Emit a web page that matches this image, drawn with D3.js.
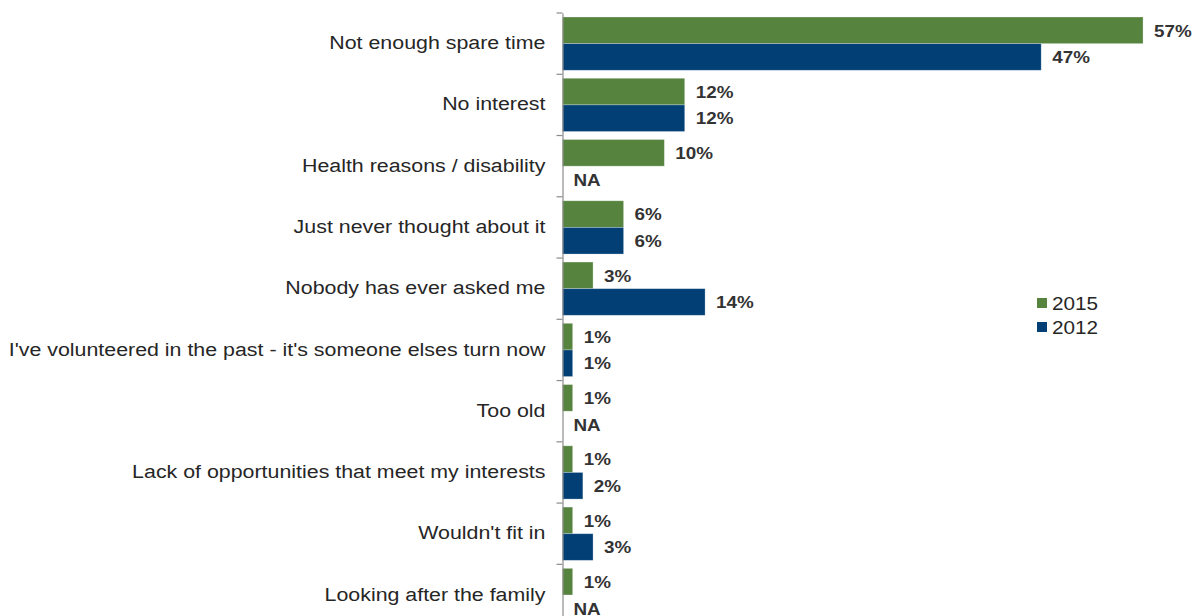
<!DOCTYPE html>
<html>
<head>
<meta charset="utf-8">
<script src="https://cdn.jsdelivr.net/npm/d3@7"></script>
<style>
  html, body { margin: 0; padding: 0; background: #fff; }
  svg { display: block; }
  text { font-family: "Liberation Sans", Arial, sans-serif; }
</style>
</head>
<body>
<svg id="chart" width="1195" height="616"></svg>
<script>
// Reasons for not volunteering, share of respondents (%)
const categories = [
  "Not enough spare time",
  "No interest",
  "Health reasons / disability",
  "Just never thought about it",
  "Nobody has ever asked me",
  "I've volunteered in the past - it's someone elses turn now",
  "Too old",
  "Lack of opportunities that meet my interests",
  "Wouldn't fit in",
  "Looking after the family"
];
const seriesNames = ["2015", "2012"];
// null = not asked that year (shown as NA)
const values2015 = [57, 12, 10, 6, 3, 1, 1, 1, 1, 1];
const values2012 = [47, 12, null, 6, 14, 1, null, 2, 3, null];
const seriesColors = ["#56843f", "#013f75"];

const svg = d3.select("#chart");
const axisX = 562.5;
const plotTop = 13, plotBottom = 625.6;
const stretch = 1.09;      // slightly wide type for values and legend
const labelStretch = 1.125; // category labels

const x = d3.scaleLinear().domain([0, 60]).range([axisX, axisX + 60 * 10.185]);
const y = d3.scaleBand().domain(categories).range([plotTop, plotBottom]).padding(0);
const ySub = d3.scaleBand().domain(seriesNames).range([4, y.step() - 4]).padding(0);

const rows = categories.map((c, i) => ({
  cat: c,
  vals: [
    { s: seriesNames[0], v: values2015[i] },
    { s: seriesNames[1], v: values2012[i] }
  ]
}));

const g = svg.append("g");

// Bars and value labels
const groups = g.selectAll("g.row").data(rows).join("g")
  .attr("class", "row")
  .attr("transform", d => `translate(0,${y(d.cat)})`);

groups.selectAll("rect").data(d => d.vals.filter(e => e.v !== null)).join("rect")
  .attr("x", x(0))
  .attr("y", e => ySub(e.s))
  .attr("width", e => x(e.v) - x(0))
  .attr("height", ySub.bandwidth())
  .attr("fill", e => seriesColors[seriesNames.indexOf(e.s)])
  .attr("stroke", "rgba(255,255,255,0.35)")
  .attr("stroke-width", 0.8);

groups.selectAll("text.val").data(d => d.vals).join("text")
  .attr("class", "val")
  .attr("transform", e => `translate(${(e.v === null ? x(0) : x(e.v)) + 11},${ySub(e.s) + ySub.bandwidth() / 2}) scale(${stretch},1)`)
  .attr("dy", "0.36em")
  .attr("font-size", 17.3)
  .attr("font-weight", "bold")
  .attr("fill", "#333")
  .text(e => e.v === null ? "NA" : e.v + "%");

// Category axis
const yAxis = d3.axisLeft(y).tickSize(0).tickPadding(17);
const axG = svg.append("g")
  .attr("transform", `translate(${axisX},0)`)
  .call(yAxis);
axG.select(".domain").attr("stroke", "#8c8c8c").attr("stroke-width", 1.2);
axG.selectAll(".tick text")
  .attr("x", 0)
  .attr("transform", `translate(-17,-0.5) scale(${labelStretch},1)`)
  .attr("font-size", 19)
  .attr("fill", "#262626")
  .attr("font-family", "'Liberation Sans', Arial, sans-serif");

// Boundary tick marks between categories
const boundaries = categories.map(c => y(c)).concat([plotBottom]);
svg.append("g").selectAll("line").data(boundaries).join("line")
  .attr("x1", axisX - 6).attr("x2", axisX)
  .attr("y1", d => d).attr("y2", d => d)
  .attr("stroke", "#8c8c8c").attr("stroke-width", 1.2);

// Legend
const legend = svg.append("g").attr("transform", "translate(1037,298)");
const li = legend.selectAll("g").data(seriesNames).join("g")
  .attr("transform", (d, i) => `translate(0,${i * 24})`);
li.append("rect").attr("width", 10).attr("height", 10).attr("y", 0)
  .attr("fill", (d, i) => seriesColors[i]);
li.append("text")
  .attr("transform", `translate(15,5) scale(${stretch},1)`)
  .attr("dy", "0.36em")
  .attr("font-size", 19).attr("fill", "#262626").text(d => d);
</script>
</body>
</html>
